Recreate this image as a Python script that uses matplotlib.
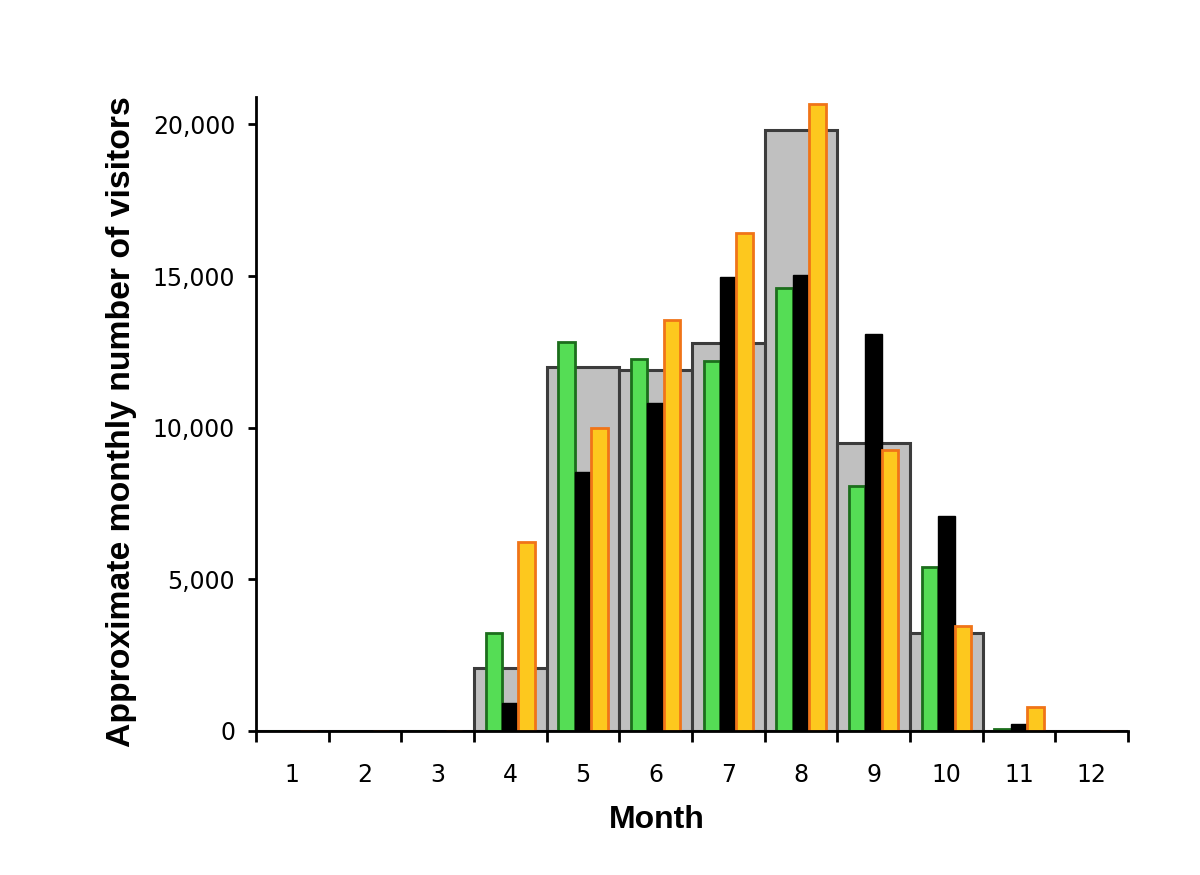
import numpy as np
import matplotlib
matplotlib.use("Agg")
import matplotlib.pyplot as plt
from matplotlib.ticker import FuncFormatter, FixedLocator

# monthly visitor estimates
months = np.arange(1, 13)
month_labels = [str(m) for m in months]
grey_vals = [0, 0, 0, 2080, 12000, 11900, 12800, 19800, 9500, 3230, 0, 0]
green_vals = [0, 0, 0, 3230, 12840, 12270, 12210, 14590, 8080, 5410, 70, 0]
black_vals = [0, 0, 0, 920, 8550, 10820, 14980, 15050, 13100, 7100, 230, 0]
orange_vals = [0, 0, 0, 6240, 10000, 13560, 16430, 20660, 9270, 3460, 790, 0]

fig = plt.figure(figsize=(12, 8.75), dpi=100)
ax = fig.add_axes([0.2133, 0.1646, 0.7267, 0.7244])

w = 0.225
ax.bar(months, grey_vals, width=1.0, color="#c0c0c0", edgecolor="#3c3c3c",
       linewidth=2.2, zorder=1)
ax.bar(months - w, green_vals, width=w, color="#55dd55", edgecolor="#1c6e1c",
       linewidth=2.0, zorder=2)
ax.bar(months, black_vals, width=w, color="black", edgecolor="black",
       linewidth=1.0, zorder=2)
ax.bar(months + w, orange_vals, width=w, color="#fdc81e", edgecolor="#f07418",
       linewidth=2.0, zorder=2)

ax.set_xlim(0.5, 12.5)
ax.set_ylim(0, 20900)

for s in ["top", "right"]:
    ax.spines[s].set_visible(False)
for s in ["left", "bottom"]:
    ax.spines[s].set_linewidth(2)
    ax.spines[s].set_color("black")

# x: ticks at month boundaries, labels in between
ax.xaxis.set_major_locator(FixedLocator(np.arange(0.5, 13, 1)))
ax.xaxis.set_major_formatter(FuncFormatter(lambda v, p: ""))
ax.xaxis.set_minor_locator(FixedLocator(months))
ax.set_xticklabels(month_labels, minor=True)
ax.tick_params(axis="x", which="major", direction="out", length=8, width=2)
ax.tick_params(axis="x", which="minor", length=0, pad=23, labelsize=17)

ax.set_yticks([0, 5000, 10000, 15000, 20000])
ax.yaxis.set_major_formatter(FuncFormatter(lambda v, p: "{:,.0f}".format(v)))
ax.tick_params(axis="y", direction="out", length=6, width=2, pad=9, labelsize=17)

ax.set_xlabel("Month", fontsize=23, fontweight="bold", family="Liberation Sans")
ax.xaxis.set_label_coords(0.46, -0.116)
ax.set_ylabel("Approximate monthly number of visitors", fontsize=24.3,
              fontweight="bold", family="Liberation Sans")
ax.yaxis.set_label_coords(-0.136, 0.488)

fig.savefig("out.png", dpi=100)
